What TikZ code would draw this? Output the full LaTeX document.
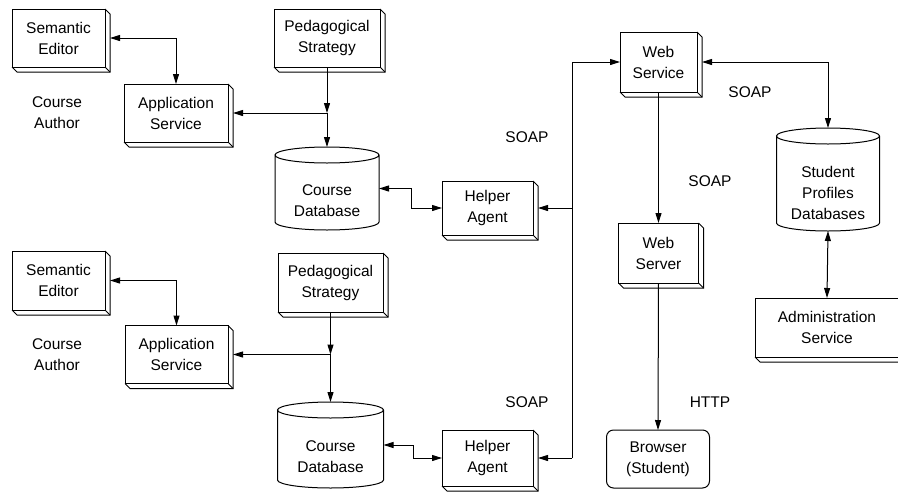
\documentclass[tikz,border=0pt]{standalone}
\usepackage{fontspec}
\setmainfont{Liberation Sans}
\usetikzlibrary{arrows.meta,calc}
\newcommand\bevel[1]{%
  \draw (#1.north east) -- ++(5pt,-5pt) -- ([shift={(5pt,-5pt)}]#1.south east) -- ([shift={(5pt,-5pt)}]#1.south west) -- (#1.south west);
  \draw (#1.south east) -- ++(5pt,-5pt);}
\newcommand\drawcyl[2]{%
  \draw ([yshift=-8pt]#1.north west) -- ([yshift=8pt]#1.south west)
    arc[start angle=180,end angle=360,x radius=#2pt,y radius=8pt]
    -- ([yshift=-8pt]#1.north east)
    arc[start angle=0,end angle=360,x radius=#2pt,y radius=8pt];}
\begin{document}
\begin{tikzpicture}[x=1pt,y=-1pt,line width=1pt,
  >={Triangle[length=10pt,width=6pt]},
  every node/.style={font=\fontsize{15.5}{21}\selectfont,align=center,outer sep=0pt,inner sep=0pt},
  box/.style={draw,minimum width=#1},
  cyl/.style={minimum width=#1},
  lbl/.style={}]
\useasboundingbox (0,0) rectangle (898,491);
\clip (0,0) rectangle (898,491);
% ---------- top half ----------
\node[box=93pt,minimum height=58pt] (se1) at (58.5,38) {Semantic\\Editor};
\node[box=104pt,minimum height=58pt] (as1) at (176,113) {Application\\Service};
\node[box=106pt,minimum height=58pt] (ps1) at (327,38) {Pedagogical\\Strategy};
\node[cyl=104pt,minimum height=83pt] (db1) at (327,188.5) {};
\node (db1t) at (327,201) {Course\\Database};
\node[box=91pt,minimum height=54pt] (ha1) at (487.5,208) {Helper\\Agent};
\node (ca1) at (57,113) {Course\\Author};
% ---------- right part ----------
\node[box=77pt,minimum height=60pt] (ws) at (658.5,62) {Web\\Service};
\node[box=80pt,minimum height=60pt] (wsv) at (658.5,253) {Web\\Server};
\node[draw,rounded corners=7pt,minimum width=103pt,minimum height=58pt] (br) at (658,459) {Browser\\(Student)};
\node[cyl=103pt,minimum height=103pt] (spd) at (828,179.5) {};
\node (spdt) at (828,193) {Student\\Profiles\\Databases};
\node[box=144pt,minimum height=59pt] (adm) at (827,327.5) {Administration\\Service};
% ---------- bottom half ----------
\node[box=93pt,minimum height=59pt] (se2) at (58.5,280.5) {Semantic\\Editor};
\node[box=103pt,minimum height=58pt] (as2) at (176.5,354.5) {Application\\Service};
\node[box=105pt,minimum height=59pt] (ps2) at (330.5,282.5) {Pedagogical\\Strategy};
\node[cyl=106pt,minimum height=86pt] (db2) at (330.5,445) {};
\node (db2t) at (330.5,457) {Course\\Database};
\node[box=91pt,minimum height=56pt] (ha2) at (487.5,458) {Helper\\Agent};
\node (ca2) at (57,355) {Course\\Author};
% ---------- labels ----------
\node (l1) at (527,137) {SOAP};
\node (l2) at (750,92) {SOAP};
\node (l3) at (710,181) {SOAP};
\node (l4) at (710,402) {HTTP};
\node (l5) at (527,402) {SOAP};
% ---------- shapes decoration ----------
\foreach \n in {se1,as1,ps1,ha1,ws,wsv,adm,se2,as2,ps2,ha2} {\bevel{\n}}
\drawcyl{db1}{52}
\drawcyl{db2}{53}
\drawcyl{spd}{51.5}
% ---------- connectors top ----------
\draw[<->] ([xshift=5pt]se1.east) -| (as1.north);
\coordinate (j1) at (ps1.south |- as1.east);
\draw[->] (ps1.south) -- (j1);
\draw[->] (j1) -- ([xshift=5pt]as1.east);
\draw[->] (j1) -- (db1.north);
\draw[<->] (db1.east) -- ++(32,0) |- (ha1.west);
% ---------- connectors bottom ----------
\draw[<->] ([xshift=5pt]se2.east) -| (as2.north);
\coordinate (j2) at (ps2.south |- as2.east);
\draw[->] (ps2.south) -- (j2);
\draw[->] (j2) -- ([xshift=5pt]as2.east);
\draw[->] (j2) -- (db2.north);
\draw[<->] (db2.east) -- ++(30,0) |- (ha2.west);
% ---------- bus ----------
\coordinate (bb) at ($(ha2.east)+(39,0)$);
\draw[->] (bb) -- ([xshift=5pt]ha2.east);
\draw[->] (bb) |- (ws.west);
\draw[->] (bb |- ha1.east) -- ([xshift=5pt]ha1.east);
% ---------- right connectors ----------
\draw[<->] ([xshift=5pt]ws.east) -| (spd.north);
\draw[->] (ws.south) -- (wsv.north);
\draw[->] (wsv.south) -- (br.north);
\draw[<->] (spd.south) -- (adm.north);
\end{tikzpicture}
\end{document}
